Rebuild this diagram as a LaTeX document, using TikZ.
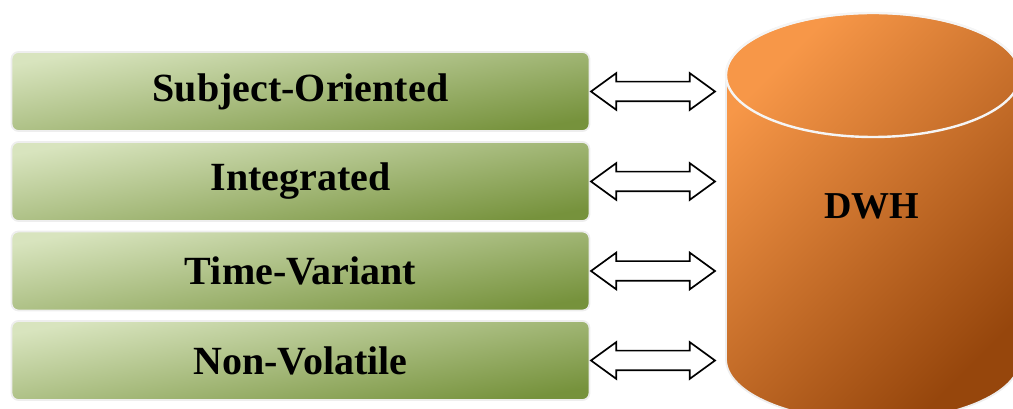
\documentclass[tikz,border=0pt]{standalone}
\usepackage{fontspec}
\setmainfont{Liberation Serif}
\usetikzlibrary{shapes.arrows}
\definecolor{boxlight}{RGB}{216,228,190}
\definecolor{boxdark}{RGB}{118,146,60}
\definecolor{cyllight}{RGB}{247,151,72}
\definecolor{cyldark}{RGB}{150,70,12}
\definecolor{rim}{RGB}{238,238,238}
\tikzset{
  prop/.style={rectangle, rounded corners=7pt, minimum width=578pt, minimum height=79pt,
    top color=boxlight, bottom color=boxdark, shading angle=10,
    draw=rim, line width=1.8pt, inner sep=0pt,
    font=\fontsize{40}{48}\selectfont\bfseries},
  link/.style={double arrow, draw=black, fill=white, line width=1.7pt,
    minimum height=124pt, minimum width=35pt, double arrow head extend=8.5pt,
    double arrow tip angle=72, inner xsep=0pt, inner ysep=9pt},
}
\begin{document}
\begin{tikzpicture}[x=1pt,y=1pt]
\useasboundingbox (0,0) rectangle (1013,409);
% property boxes
\node[prop] (p1) at (300.5,317.5) {Subject-Oriented};
\node[prop] (p2) at (300.5,227.5) {Integrated};
\node[prop] (p3) at (300.5,138) {Time-Variant};
\node[prop] (p4) at (300.5,48.5) {Non-Volatile};
% two-way arrows towards the warehouse
\node[link] (a1) at (653,317.5) {};
\node[link] (a2) at (653,227.5) {};
\node[link] (a3) at (653,138) {};
\node[link] (a4) at (653,48.5) {};
% warehouse cylinder
\path[top color=cyllight, bottom color=cyldark, shading angle=45, draw=rim, line width=1.8pt]
  (726,334) -- (726,50)
  arc[start angle=180, end angle=360, x radius=147, y radius=62]
  -- (1020,334)
  arc[start angle=0, end angle=180, x radius=147, y radius=62] -- cycle;
\draw[white!96!black, line width=2.4pt] (873,334) ellipse[x radius=147, y radius=62];
\node[font=\fontsize{38}{46}\selectfont\bfseries] (dwh) at (872,203) {DWH};
\end{tikzpicture}
\end{document}
